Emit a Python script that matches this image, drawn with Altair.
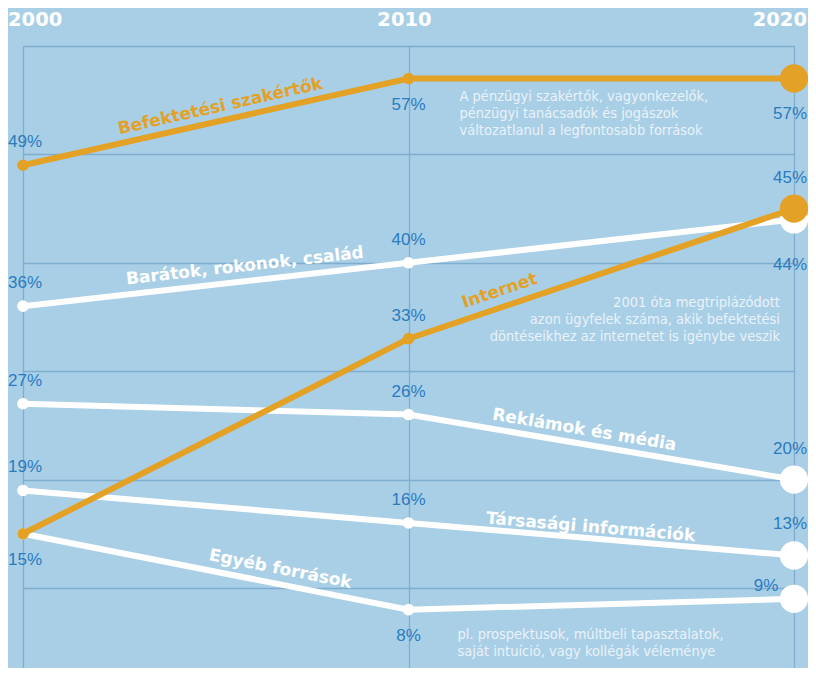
import math
import altair as alt
import pandas as pd

# ---------------- data ----------------
years = [2000, 2010, 2020]
series = ["Befektetési szakértők", "Barátok, rokonok, család", "Internet",
          "Reklámok és média", "Társasági információk", "Egyéb források"]
v_befektetesi = [49, 57, 57]
v_baratok = [36, 40, 44]
v_internet = [15, 33, 45]
v_reklamok = [27, 26, 20]
v_tarsasagi = [19, 16, 13]
v_egyeb = [15, 8, 9]
values = [v_befektetesi, v_baratok, v_internet, v_reklamok, v_tarsasagi, v_egyeb]
groups = ["orange", "white", "orange", "white", "white", "white"]

notes = [
    "A pénzügyi szakértők, vagyonkezelők,\npénzügyi tanácsadók és jogászok\nváltozatlanul a legfontosabb források",
    "2001 óta megtriplázódott\nazon ügyfelek száma, akik befektetési\ndöntéseikhez az internetet is igénybe veszik",
    "pl. prospektusok, múltbeli tapasztalatok,\nsaját intuíció, vagy kollégák véleménye",
]

# ---------------- style ----------------
W, H = 771, 622
YMIN, YMAX = 2.62, 60
BG = "#a9cfe6"
ORANGE = "#e3a126"
WHITE = "#ffffff"
BLUE = "#2a7bbf"
GRID = "#7fadcf"
NOTE = "#eaf2f8"
COLORS = {"orange": ORANGE, "white": WHITE}

# percentage label placement per point
label_place = [
    ["above", "below", "bigbelow"],
    ["above", "above", "below2"],
    ["below", "above", "bigabove"],
    ["above", "above", "bigabove"],
    ["above", "above", "bigabove"],
    ["none", "below", "left"],
]
place_offsets = {
    "above": (0, -23), "below": (0, 26), "bigabove": (0, -31),
    "bigbelow": (0, 35), "below2": (0, 46), "left": (-28, -13),
}
# per column label alignment: (year idx, align, dx)
col_style = [(0, "center", 2), (1, "center", 0), (2, "right", 13)]
# series name label: (segment, fraction, perpendicular offset)
name_style = [(0, 0.52, -14), (0, 0.58, -15), (1, 0.25, -16),
              (1, 0.45, -14), (1, 0.47, -11), (0, 0.66, -15)]
# note anchors: (series idx, year idx, dx, dy, align)
note_style = [(0, 1, 51, 11, "left"), (2, 2, -14, 87, "right"), (5, 1, 49, 18, "left")]

# ---------------- tables ----------------
rows = []
for i, s in enumerate(series):
    for j, yr in enumerate(years):
        rows.append({"series": s, "year": yr, "value": values[i][j],
                     "group": groups[i], "place": label_place[i][j],
                     "label": f"{values[i][j]}%"})
df = pd.DataFrame(rows)

pxyr = W / (years[-1] - years[0])
pxv = H / (YMAX - YMIN)
name_rows = []
for i, s in enumerate(series):
    seg, t, off = name_style[i]
    v0, v1 = values[i][seg], values[i][seg + 1]
    ang = math.degrees(math.atan2(-(v1 - v0) * pxv, (years[seg + 1] - years[seg]) * pxyr)) % 360
    name_rows.append({"series": s, "group": groups[i], "off": off,
                      "year": years[seg] + t * (years[seg + 1] - years[seg]),
                      "value": v0 + t * (v1 - v0), "angle": ang})
names_df = pd.DataFrame(name_rows)

x_scale = alt.Scale(domain=[years[0], years[-1]], nice=False, zero=False)
y_scale = alt.Scale(domain=[YMIN, YMAX], nice=False, zero=False)

xa = alt.Axis(values=years, grid=True, labels=False, ticks=False, domain=False, title=None)
ya = alt.Axis(values=[10, 20, 30, 40, 50, 60], grid=True, labels=False, ticks=False,
              domain=False, title=None)


def X():
    return alt.X("year:Q", scale=x_scale, axis=xa)


def Y():
    return alt.Y("value:Q", scale=y_scale, axis=ya)


layers = []
base = alt.Chart(df)

# lines and points per colour group (white below, orange on top)
for g in ["white", "orange"]:
    sub = base.transform_filter(alt.datum.group == g)
    layers.append(sub.mark_line(strokeWidth=6, color=COLORS[g]).encode(
        x=X(), y=Y(), detail="series:N", order="year:Q"))
    layers.append(sub.mark_circle(opacity=1, color=COLORS[g]).encode(
        x=X(), y=Y(),
        size=alt.condition(alt.datum.year == years[-1], alt.value(800), alt.value(135))))

# percentage labels
for code, (dx, dy) in place_offsets.items():
    for yi, al, cdx in col_style:
        if code == "left":
            if yi != 2:
                continue
            al, cdx = "center", 0
        test = (alt.datum.place == code) & (alt.datum.year == years[yi])
        layers.append(base.transform_filter(test).mark_text(
            font="Liberation Sans", fontSize=17, color=BLUE, baseline="middle",
            align=al, dx=dx + cdx, dy=dy).encode(x=X(), y=Y(), text="label:N"))

# series name labels along lines
for i in range(len(series)):
    layers.append(alt.Chart(names_df.iloc[[i]]).mark_text(
        font="DejaVu Sans", fontWeight="bold", fontSize=17, baseline="middle",
        align="center", dy=name_style[i][2], color=COLORS[groups[i]]).encode(
        x=X(), y=Y(), text="series:N", angle=alt.Angle("angle:Q", scale=None)))

# notes
for k, txt in enumerate(notes):
    si, yi, dx, dy, al = note_style[k]
    ndf = pd.DataFrame([{"year": years[yi], "value": values[si][yi], "text": txt}])
    layers.append(alt.Chart(ndf).mark_text(
        font="DejaVu Sans Condensed", fontSize=14.5, color=NOTE, align=al,
        baseline="top", lineBreak="\n", lineHeight=17, dx=dx, dy=dy).encode(
        x=X(), y=Y(), text="text:N"))

# year headers
ydf = pd.DataFrame({"year": years, "ylab": [str(y) for y in years]})
for yr, al, dx in [(years[0], "left", -15), (years[1], "center", -4), (years[2], "right", 13)]:
    layers.append(alt.Chart(ydf).transform_filter(alt.datum.year == yr).mark_text(
        font="DejaVu Sans", fontWeight="bold", fontSize=19.5, color=WHITE,
        align=al, baseline="middle", dx=dx).encode(
        x=X(), y=alt.value(-26), text="ylab:N"))

chart = alt.layer(*layers).properties(
    width=W, height=H,
    padding={"left": 15, "top": 38, "right": 14, "bottom": 0},
    autosize=alt.AutoSizeParams(type="none"),
).configure_view(stroke=None).configure(background=BG).configure_axis(
    gridColor=GRID, gridWidth=1.3, gridOpacity=1)

chart.save("out.html", embed_options={"renderer": "svg", "actions": False})
